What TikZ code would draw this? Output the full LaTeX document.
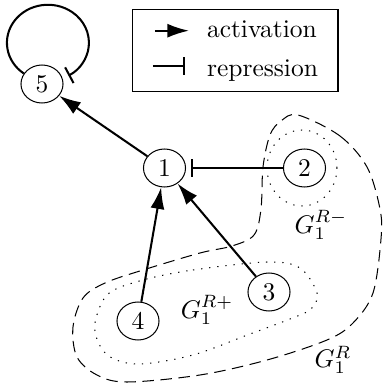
\documentclass[tikz,border=0pt]{standalone}
\usetikzlibrary{arrows.meta,shapes.geometric}
\begin{document}
\begin{tikzpicture}[x=0.392157pt,y=0.392157pt,
  gene/.style={ellipse,draw,line width=0.4pt,minimum width=16.5pt,minimum height=14.9pt,inner sep=0pt},
  act/.style={line width=0.8pt,-{Latex[length=8.5pt,width=5.5pt]}},
  rep/.style={line width=0.8pt,-{Bar[width=7pt,line width=0.8pt]}},
  outerreg/.style={line width=0.4pt,dash pattern=on 4.5pt off 2.6pt},
  innerreg/.style={line width=0.4pt,dash pattern=on 0.5pt off 2.7pt},
  lbl/.style={inner sep=0pt}]
\useasboundingbox (0,0) rectangle (383,389);
% regions
\draw[outerreg] plot[smooth cycle,tension=0.55] coordinates {
 (298,274) (340,253) (367,222) (380,180) (381,150) (373,96) (353,66) (327,49)
 (267,29) (200,14) (127,7) (97,14) (77,32) (73,62) (83,91) (105,106)
 (143,119) (200,136) (232,143) (254,154) (261,180) (263,222) (270,254) (281,268)};
\draw[innerreg] plot[smooth cycle,tension=0.55] coordinates {
 (143,109) (193,119) (267,127) (300,121) (317,96) (311,80) (290,70)
 (250,55) (193,34) (140,25) (112,31) (99,45) (95,66) (108,95)};
\draw[innerreg] (302,221) ellipse[x radius=35,y radius=38];
% genes
\node[gene] (n5) at (42,305) {5};
\node[gene] (n1) at (164.5,221) {1};
\node[gene] (n2) at (304.5,221) {2};
\node[gene] (n3) at (269,97) {3};
\node[gene] (n4) at (138,68) {4};
% region labels
\node[lbl] (lm) at (321,164) {$G_1^{R-}$};
\node[lbl] (lp) at (207,79) {$G_1^{R+}$};
\node[lbl] (lr) at (333,29) {$G_1^{R}$};
% interactions
\draw[act] (n1) -- (n5);
\draw[rep,shorten >=2pt] (n2) -- (n1);
\draw[act] (n3) -- (n1);
\draw[act] (n4) -- (n1);
\draw[rep] (n5.150) arc[start angle=234,end angle=-60,x radius=41,y radius=38];
% legend
\node[draw,line width=0.4pt,minimum width=80.4pt,minimum height=32.5pt,inner sep=0pt] (legend) at (235.5,338.5) {};
\coordinate (a1) at (155,358.3);
\coordinate (a2) at (189,358.3);
\coordinate (r1) at (153,323);
\coordinate (r2) at (185,323);
\draw[act] (a1) -- (a2);
\draw[rep] (r1) -- (r2);
\node[lbl,anchor=base west] (tact) at (206.5,351.3) {activation};
\node[lbl,anchor=base west] (trep) at (206.5,312.5) {repression};
\end{tikzpicture}
\end{document}
